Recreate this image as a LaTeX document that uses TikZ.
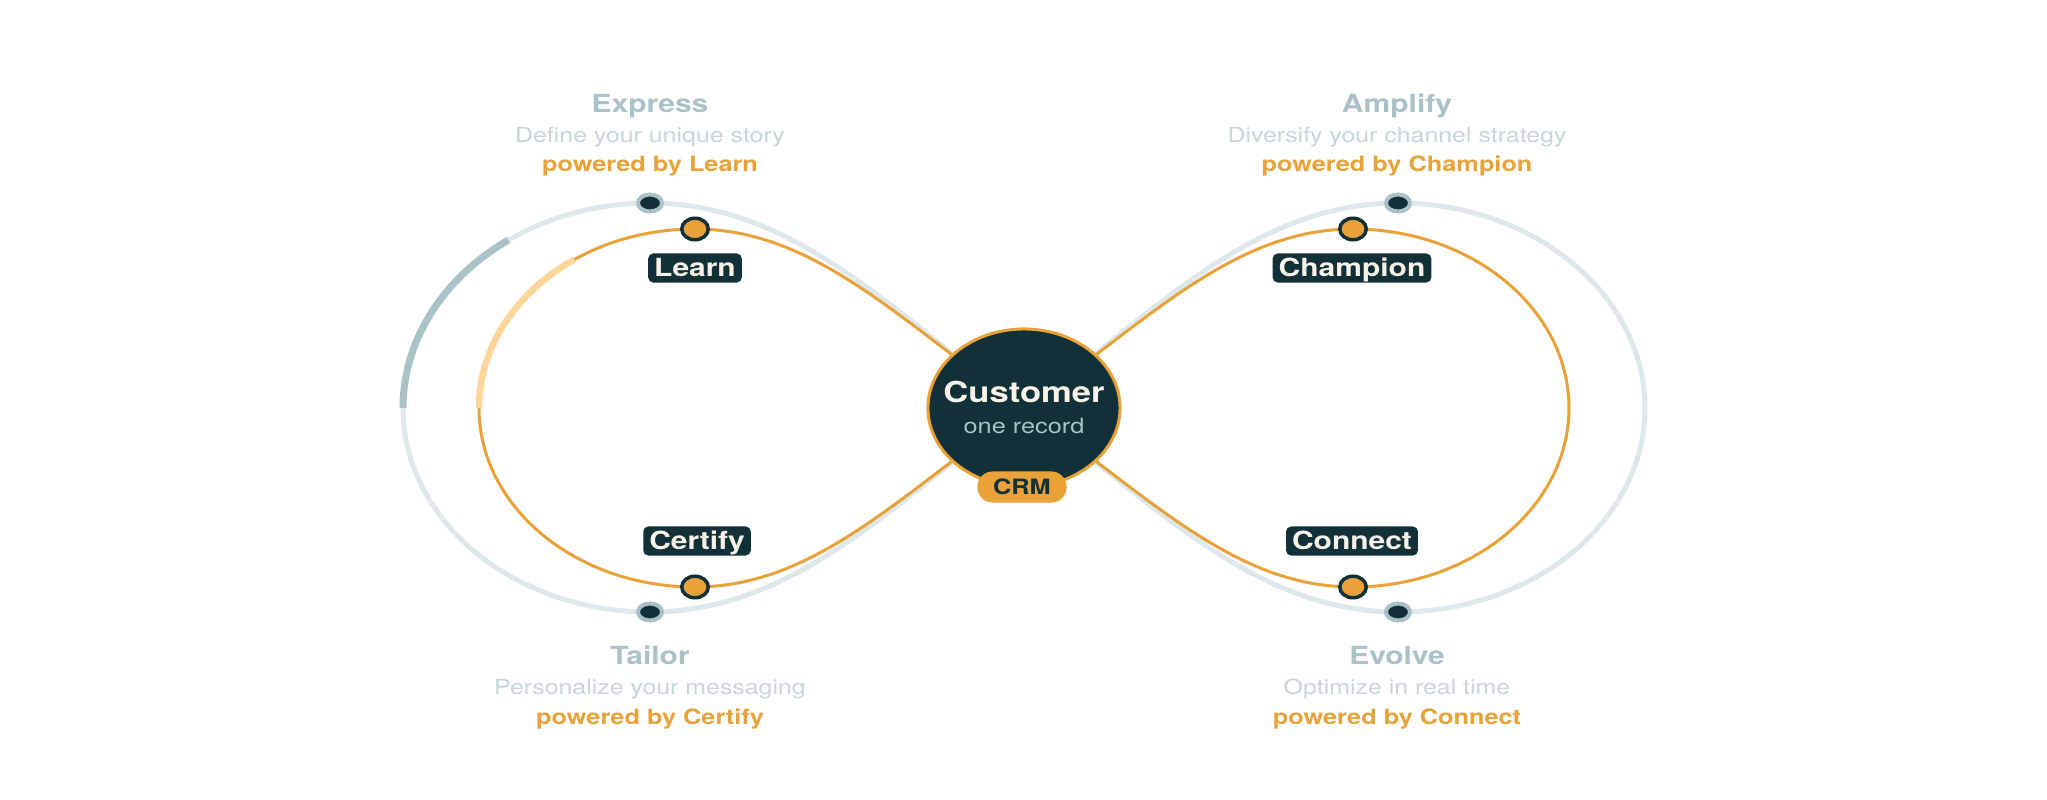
\documentclass[tikz,border=0pt]{standalone}
\usepackage{fontspec}
\setmainfont{TeX Gyre Heros}[FakeStretch=1.2]
\usepackage{tikz}
\usetikzlibrary{shapes.geometric}
\definecolor{deepteal}{RGB}{17,48,56}
\definecolor{amber}{RGB}{233,162,58}
\definecolor{paleamber}{RGB}{254,214,155}
\definecolor{slategrey}{RGB}{169,193,199}
\definecolor{mistgrey}{RGB}{198,214,219}
\definecolor{fogline}{RGB}{222,232,235}
\definecolor{cream}{RGB}{248,243,232}

\begin{document}
\begin{tikzpicture}[x=0.01cm, y=0.01cm,
  headtext/.style={font=\bfseries\fontsize{7.1}{8}\selectfont, text=slategrey, anchor=base},
  blurbtext/.style={font=\fontsize{5.9}{7}\selectfont, text=mistgrey, anchor=base},
  powertext/.style={font=\bfseries\fontsize{6}{7}\selectfont, text=amber, anchor=base},
  stagebox/.style={fill=deepteal, text=cream, rounded corners=0.05cm,
    font=\bfseries\fontsize{7.1}{8}\selectfont, text height=0.18cm, text depth=0.02cm,
    inner xsep=0.06cm, inner ysep=0.045cm},
  greydot/.style={ellipse, draw=slategrey, fill=deepteal, line width=0.04cm,
    minimum width=0.24cm, minimum height=0.17cm, inner sep=0},
  amberdot/.style={ellipse, draw=deepteal, fill=amber, line width=0.035cm,
    minimum width=0.265cm, minimum height=0.215cm, inner sep=0}]
\fill[white] (0,0) rectangle (2047,799);

% Loop points
\coordinate (hub) at (1024,391);
\coordinate (gtl) at (650,596);
\coordinate (gbl) at (650,187);
\coordinate (gtr) at (1398,596);
\coordinate (gbr) at (1398,187);
\coordinate (otl) at (695,570);
\coordinate (obl) at (695,212);
\coordinate (otr) at (1353,570);
\coordinate (obr) at (1353,212);

% Outer grey loop
\draw[fogline, line width=0.05cm] (hub) .. controls (901,477) and (800,596) .. (gtl)
  .. controls (514,596) and (403,504) .. (403,391)
  .. controls (403,278) and (514,187) .. (gbl)
  .. controls (800,187) and (901,305) .. (hub)
  .. controls (1147,477) and (1248,596) .. (gtr)
  .. controls (1534,596) and (1645,504) .. (1645,391)
  .. controls (1645,278) and (1534,187) .. (gbr)
  .. controls (1248,187) and (1147,305) .. (hub);
\draw[slategrey, line width=0.07cm] (650,391) ++(125:247 and 205)
  arc[start angle=125, end angle=180, x radius=247, y radius=205];

% Inner amber loop
\draw[amber, line width=0.03cm] (hub) .. controls (901,477) and (815,570) .. (otl)
  .. controls (576,570) and (479,490) .. (479,391)
  .. controls (479,292) and (576,212) .. (obl)
  .. controls (815,212) and (901,305) .. (hub)
  .. controls (1147,477) and (1233,570) .. (otr)
  .. controls (1472,570) and (1569,490) .. (1569,391)
  .. controls (1569,292) and (1472,212) .. (obr)
  .. controls (1233,212) and (1147,305) .. (hub);
\draw[paleamber, line width=0.065cm] (695,391) ++(124:216 and 179)
  arc[start angle=124, end angle=180, x radius=216, y radius=179];

% Dots
\node[greydot] (expressdot) at (gtl) {};
\node[greydot] (tailordot) at (gbl) {};
\node[greydot] (amplifydot) at (gtr) {};
\node[greydot] (evolvedot) at (gbr) {};
\node[amberdot] (learndot) at (otl) {};
\node[amberdot] (certifydot) at (obl) {};
\node[amberdot] (championdot) at (otr) {};
\node[amberdot] (connectdot) at (obr) {};

% Customer hub
\node[ellipse, draw=amber, fill=deepteal, line width=0.03cm,
  minimum width=1.92cm, minimum height=1.58cm] (customer) at (hub) {};
\node[font=\bfseries\fontsize{8.2}{9}\selectfont, text=cream, anchor=base] (custname) at (1024,397) {Customer};
\node[font=\fontsize{6}{7}\selectfont, text=slategrey, anchor=base] (custsub) at (1024,366) {one record};
\node[fill=amber, rounded corners=0.15cm, minimum width=0.89cm, minimum height=0.31cm, inner sep=0,
  font=\bfseries\fontsize{6}{7}\selectfont, text=deepteal] (crm) at (1022,312) {CRM};

% Stage labels
\node[stagebox] (learn) at (695,531) {Learn};
\node[stagebox] (champion) at (1352,531) {Champion};
\node[stagebox] (certify) at (697,258) {Certify};
\node[stagebox] (connect) at (1352,258) {Connect};

% Express
\node[headtext] (express) at (650,686) {Express};
\node[blurbtext] (expressblurb) at (650,657) {Define your unique story};
\node[powertext] (expresspower) at (650,627) {powered by Learn};

% Amplify
\node[headtext] (amplify) at (1397,686) {Amplify};
\node[blurbtext] (amplifyblurb) at (1397,657) {Diversify your channel strategy};
\node[powertext] (amplifypower) at (1397,627) {powered by Champion};

% Tailor
\node[headtext] (tailor) at (650,135) {Tailor};
\node[blurbtext] (tailorblurb) at (650,105) {Personalize your messaging};
\node[powertext] (tailorpower) at (650,75) {powered by Certify};

% Evolve
\node[headtext] (evolve) at (1397,135) {Evolve};
\node[blurbtext] (evolveblurb) at (1397,105) {Optimize in real time};
\node[powertext] (evolvepower) at (1397,75) {powered by Connect};
\end{tikzpicture}
\end{document}
